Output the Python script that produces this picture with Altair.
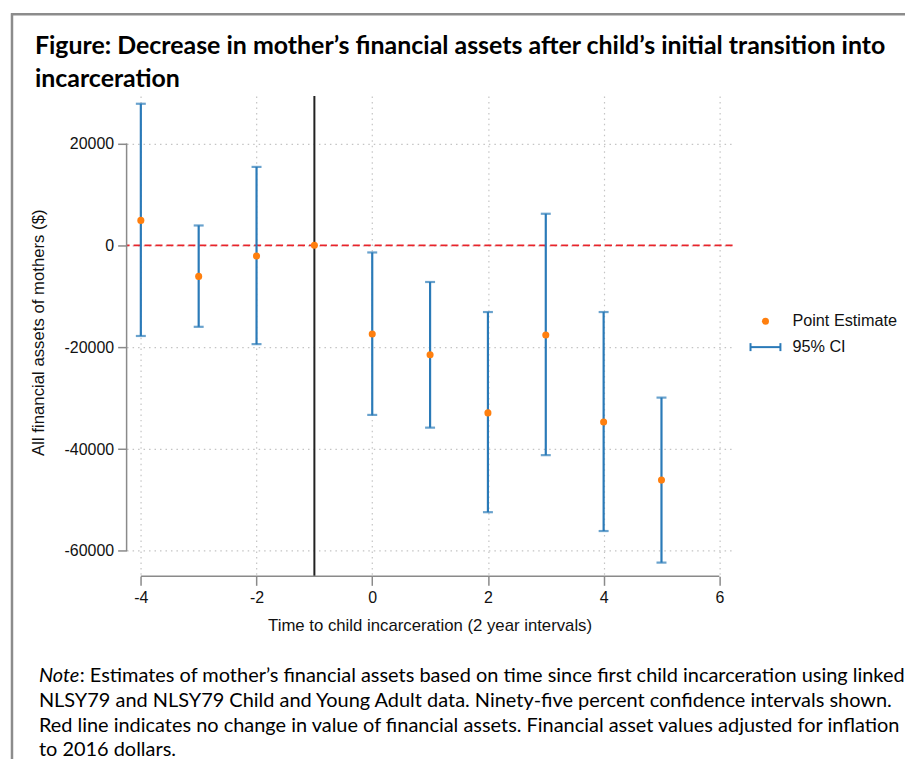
import altair as alt
import pandas as pd

# ---- data ----
time = [-4, -3, -2, -1, 0, 1, 2, 3, 4, 5]
estimate = [4900, -6100, -2100, 0, -17400, -21500, -32900, -17600, -34700, -46100]
ci_low = [-17800, -16000, -19400, None, -33300, -35800, -52400, -41200, -56100, -62300]
ci_high = [27800, 3900, 15400, None, -1400, -7200, -13100, 6200, -13100, -29900]

x_ticks = [-4, -2, 0, 2, 4, 6]
y_ticks = [-60000, -40000, -20000, 0, 20000]
event_time = [-1]
zero_line = [0]

title_lines = [
    "Figure: Decrease in mother\u2019s financial assets after child\u2019s initial transition into",
    "incarceration",
]
note_lead = "Note"
note_lines = [
    ": Estimates of mother\u2019s financial assets based on time since first child incarceration using linked",
    "NLSY79 and NLSY79 Child and Young Adult data. Ninety-five percent confidence intervals shown.",
    "Red line indicates no change in value of financial assets. Financial asset values adjusted for inflation",
    "to 2016 dollars.",
]
legend_labels = ["Point Estimate", "95% CI"]

BLUE = "#2a7ab8"
ORANGE = "#ff7f0e"
GRAY = "#8a8a8a"
W, H = 608, 482

df = pd.DataFrame({"t": time, "est": estimate, "lo": ci_low, "hi": ci_high})
df_ci = df.dropna()

xs = alt.Scale(domain=[-4.246, 6.229], nice=False, zero=False)
ys = alt.Scale(domain=[-65000, 29330], nice=False, zero=False)

xax = alt.Axis(values=x_ticks, labelExpr="'' + datum.value", domain=False, grid=True,
               title="Time to child incarceration (2 year intervals)",
               titleY=49, titleBaseline="middle")
yax = alt.Axis(values=y_ticks, labelExpr="'' + datum.value", domain=False, grid=True,
               title="All financial assets of mothers ($)",
               titleX=-79, titleY=237, titleBaseline="bottom", titleAngle=-90)

base = alt.Chart(df)

axes_layer = base.mark_point(opacity=0).encode(
    x=alt.X("t:Q", scale=xs, axis=xax),
    y=alt.Y("est:Q", scale=ys, axis=yax),
)

zero_rule = alt.Chart(pd.DataFrame({"z": zero_line})).mark_rule(
    color="#e8242b", strokeWidth=1.8, strokeDash=[7, 4]
).encode(y=alt.Y("z:Q", scale=ys))

event_rule = alt.Chart(pd.DataFrame({"e": event_time})).mark_rule(
    color="#222222", strokeWidth=2
).encode(x=alt.X("e:Q", scale=xs))

ci_rule = alt.Chart(df_ci).mark_rule(color=BLUE, strokeWidth=2.2).encode(
    x=alt.X("t:Q", scale=xs), y=alt.Y("lo:Q", scale=ys), y2="hi:Q"
)
cap_lo = alt.Chart(df_ci).mark_tick(color=BLUE, orient="horizontal", size=10, thickness=2.2).encode(
    x=alt.X("t:Q", scale=xs), y=alt.Y("lo:Q", scale=ys)
)
cap_hi = alt.Chart(df_ci).mark_tick(color=BLUE, orient="horizontal", size=10, thickness=2.2).encode(
    x=alt.X("t:Q", scale=xs), y=alt.Y("hi:Q", scale=ys)
)
points = base.mark_circle(color=ORANGE, size=50, opacity=1).encode(
    x=alt.X("t:Q", scale=xs), y=alt.Y("est:Q", scale=ys)
)

x_dom = alt.Chart(pd.DataFrame({"a": [min(x_ticks)], "b": [max(x_ticks)]})).mark_rule(
    color=GRAY, strokeWidth=1.5
).encode(x=alt.X("a:Q", scale=xs), x2="b:Q", y=alt.value(H))
y_dom = alt.Chart(pd.DataFrame({"a": [min(y_ticks)], "b": [max(y_ticks)]})).mark_rule(
    color=GRAY, strokeWidth=1.5
).encode(y=alt.Y("a:Q", scale=ys), y2="b:Q", x=alt.value(0))

one = alt.Chart(pd.DataFrame({"k": [0]}))

frame_top = one.mark_rule(color="#8c8c8c", strokeWidth=2.5).encode(
    x=alt.value(-116), x2=alt.value(900), y=alt.value(-82))
frame_left = one.mark_rule(color="#8c8c8c", strokeWidth=2.5).encode(
    x=alt.value(-115), y=alt.value(-83), y2=alt.value(800))

title_marks = [
    one.mark_text(align="left", baseline="alphabetic", font="Lato", fontWeight="bold",
                  fontSize=25, color="#000000").encode(
        x=alt.value(-92), y=alt.value(yy), text=alt.value(t))
    for t, yy in zip(title_lines, [-42, -9])
]

note_y = [588, 613, 638, 662]
note_marks = [
    one.mark_text(align="left", baseline="alphabetic", font="Lato", fontStyle="italic",
                  fontSize=20, color="#000000").encode(
        x=alt.value(-88), y=alt.value(note_y[0]), text=alt.value(note_lead))
]
note_x = [-47, -88, -88, -88]
for t, xx, yy in zip(note_lines, note_x, note_y):
    note_marks.append(
        one.mark_text(align="left", baseline="alphabetic", font="Lato",
                      fontSize=20, color="#000000").encode(
            x=alt.value(xx), y=alt.value(yy), text=alt.value(t))
    )

leg_pt = one.mark_circle(color=ORANGE, size=50, opacity=1).encode(x=alt.value(641), y=alt.value(226))
leg_line = one.mark_rule(color=BLUE, strokeWidth=2).encode(x=alt.value(626), x2=alt.value(656), y=alt.value(252))
leg_c1 = one.mark_rule(color=BLUE, strokeWidth=2).encode(x=alt.value(626), y=alt.value(248), y2=alt.value(256))
leg_c2 = one.mark_rule(color=BLUE, strokeWidth=2).encode(x=alt.value(656), y=alt.value(248), y2=alt.value(256))
leg_text = [
    one.mark_text(align="left", baseline="middle", font="Liberation Sans", fontSize=16.3,
                  color="#111111").encode(x=alt.value(668), y=alt.value(yy), text=alt.value(t))
    for t, yy in zip(legend_labels, [226, 252])
]

chart = alt.layer(
    axes_layer, zero_rule, event_rule, ci_rule, cap_lo, cap_hi, points,
    x_dom, y_dom, frame_top, frame_left, *title_marks, *note_marks,
    leg_pt, leg_line, leg_c1, leg_c2, *leg_text,
).properties(
    width=W, height=H,
    autosize=alt.AutoSizeParams(type="none"),
    padding={"left": 119, "top": 87, "right": 173, "bottom": 182},
).configure_view(stroke=None).configure_axis(
    labelFont="Liberation Sans", labelFontSize=16, labelColor="#111111",
    titleFont="Liberation Sans", titleFontSize=16.8, titleColor="#111111", titleFontWeight="normal",
    tickColor=GRAY, tickWidth=1.5, tickSize=9, labelPadding=4,
    gridColor="#c4c4c4", gridDash=[1.5, 4], gridWidth=1.2,
)

chart.save("out.html", embed_options={"renderer": "svg", "actions": False})
